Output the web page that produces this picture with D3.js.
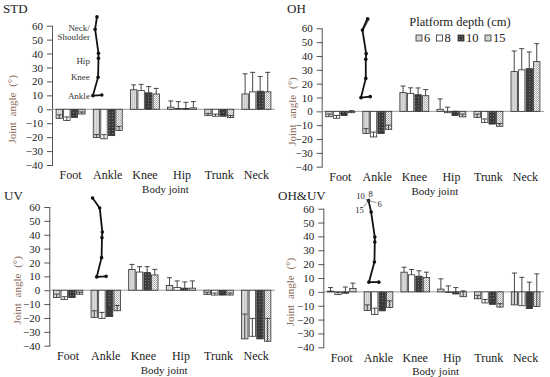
<!DOCTYPE html>
<html>
<head>
<meta charset="utf-8">
<script src="https://cdn.jsdelivr.net/npm/d3@7"></script>
<style>
body { margin: 0; background: #fff; }
svg { display: block; }
text { font-family: "Liberation Serif", "Times New Roman", serif; }
</style>
</head>
<body>
<script>
// categories, series, ticks
const categories = ['Foot', 'Ankle', 'Knee', 'Hip', 'Trunk', 'Neck'];
const depths = ['6', '8', '10', '15'];
const yTicks = [-40, -30, -20, -10, 0, 10, 20, 30, 40, 50, 60];

// means, one row per joint, one column per depth (6, 8, 10, 15 cm)
const stdMeans = [[-6.5, -8, -5.8, -3.4], [-20.2, -21.2, -18.9, -15.3], [14, 13.4, 11.8, 11],
                  [1.5, 0.5, 0.5, 1], [-4.5, -5, -5, -6], [11, 12.5, 13, 12.5]];
const stdErrs  = [[2.5, 2.5, 2, 1.5], [2, 3, 5, 3], [3.5, 4.5, 4.5, 4],
                  [4.5, 5, 4.5, 4.5], [1.5, 1.5, 1.5, 1.5], [14.5, 14, 10.5, 14]];

const ohMeans = [[-3.9, -5, -3, -1], [-16, -18.5, -16, -13], [13.5, 13, 12, 11.3],
                 [1.5, -1, -3, -4], [-4.5, -8, -9.2, -10.8], [28.7, 30, 30.8, 35.9]];
const ohErrs  = [[2, 2, 1, 1.5], [3.5, 3.5, 6, 3], [4.8, 4, 4.9, 4.4],
                 [7.5, 4, 3, 2], [2.5, 2.5, 2.5, 2], [14.9, 15.3, 12.1, 13]];

const uvMeans = [[-5.3, -6.7, -5.3, -2.9], [-19.6, -20.3, -19, -14.8], [15, 13.1, 12.7, 11],
                 [3.5, 2, 1.5, 1.5], [-3, -3.5, -3.5, -3.5], [-35.1, -33.2, -35.1, -36.8]];
const uvErrs  = [[2.5, 2, 2.5, 1.5], [4.8, 4.3, 6.6, 3.8], [3.6, 3.9, 4.3, 4],
                 [5.5, 4.7, 4.5, 5.2], [1.5, 1.5, 1.5, 1.5], [17.9, 12.9, 20.3, 16.5]];

const ohuvMeans = [[0.5, -2, -1, 2.5], [-13.5, -16.4, -13.7, -11.3], [14.2, 12.3, 11.3, 10.4],
                   [2, -0.5, -1.5, -3.5], [-5, -8, -9, -11], [-9.4, -10, -12, -10.5]];
const ohuvErrs  = [[2.6, 1.5, 4.5, 3.8], [4.1, 4.6, 5.5, 4.8], [3.6, 3.8, 3.9, 3.8],
                   [7.4, 4.8, 4.6, 4.2], [2.5, 2.5, 2.5, 2.5], [23, 20.5, 19, 23.5]];

// stick figure: toe, ankle, knee, hip, hip2, shoulder, head
// x in category units from the y axis, y in joint-angle units
const stdFigX = [1.34, 1.10, 1.24, 1.25, 1.25, 1.16, 1.21];
const stdFigY = [10.2, 9.8, 23, 36.6, 40.2, 57.5, 66.3];
const ohFigX = [1.31, 1.06, 1.19, 1.19, 1.20, 1.10, 1.24];
const ohFigY = [10.6, 9.9, 23.8, 37.6, 41.7, 58.7, 66.9];
const ohHeadX = [1.22, 1.24, 1.26, 1.28];
const uvFigX = [1.51, 1.26, 1.39, 1.40, 1.41, 1.34, 1.15];
const uvFigY = [10, 9.6, 23.5, 37.9, 42, 59.3, 66.5];
const ohuvFigX = [1.51, 1.24, 1.39, 1.40, 1.40, 1.30, 1.23];
const ohuvFigY = [7, 7, 21.5, 35.9, 39.5, 57.6, 65.8];
const figJointLabels = ['Ankle', 'Knee', 'Hip', 'Neck/', 'Shoulder'];

const width = 550;
const height = 377;

const svg = d3.select('body')
    .append('svg')
    .attr('width', width)
    .attr('height', height);

// bar fills
const defs = svg.append('defs');
let p10 = defs.append('pattern')
    .attr('id', 'pat10')
    .attr('patternUnits', 'userSpaceOnUse')
    .attr('width', 3)
    .attr('height', 3);
p10.append('rect').attr('width', 3).attr('height', 3).attr('fill', '#3c3c3c');
p10.append('rect').attr('x', 1).attr('y', 1).attr('width', 1).attr('height', 1).attr('fill', '#7a7a7a');

let p15 = defs.append('pattern')
    .attr('id', 'pat15')
    .attr('patternUnits', 'userSpaceOnUse')
    .attr('width', 2)
    .attr('height', 2);
p15.append('rect').attr('width', 2).attr('height', 2).attr('fill', '#f2f2f2');
p15.append('rect').attr('width', 1).attr('height', 1).attr('fill', '#a8a8a8');
p15.append('rect').attr('x', 1).attr('y', 1).attr('width', 1).attr('height', 1).attr('fill', '#bdbdbd');

let p6 = defs.append('pattern')
    .attr('id', 'pat6')
    .attr('patternUnits', 'userSpaceOnUse')
    .attr('width', 2)
    .attr('height', 2);
p6.append('rect').attr('width', 2).attr('height', 2).attr('fill', '#dcdcdc');
p6.append('rect').attr('width', 1).attr('height', 2).attr('fill', '#cacaca');

const fills = {'6': 'url(#pat6)', '8': '#ffffff', '10': 'url(#pat10)', '15': 'url(#pat15)'};

const panels = [
    {title: 'STD', means: stdMeans, errs: stdErrs, figX: stdFigX, figY: stdFigY,
     left: 52, right: 275, top: 25.7, bottom: 165, tx: 3, ty: 8, labX: 12, labels: true},
    {title: 'OH', means: ohMeans, errs: ohErrs, figX: ohFigX, figY: ohFigY, heads: ohHeadX,
     left: 321.7, right: 544, top: 28.3, bottom: 166.7, tx: 287, ty: 8, labX: 292, legend: true},
    {title: 'UV', means: uvMeans, errs: uvErrs, figX: uvFigX, figY: uvFigY,
     left: 49.3, right: 275, top: 207, bottom: 345.7, tx: 4, ty: 195, labX: 17},
    {title: 'OH&UV', means: ohuvMeans, errs: ohuvErrs, figX: ohuvFigX, figY: ohuvFigY,
     left: 323.3, right: 544, top: 208.7, bottom: 347.3, tx: 278, ty: 195, labX: 290, depthTags: true}
];

function fmt(d) {
    return d < 0 ? '\u2212' + (-d) : '' + d;
}

panels.forEach(drawPanel);

function drawPanel(p) {
    const g = svg.append('g');

    const y = d3.scaleLinear().domain([-40, 60]).range([p.bottom, p.top]);
    const x0 = d3.scaleBand()
        .domain(categories)
        .range([p.left, p.right])
        .paddingInner(0.22)
        .paddingOuter(0.11);
    const x1 = d3.scaleBand()
        .domain(depths)
        .range([0, x0.bandwidth()])
        .paddingInner(0.15);
    const xf = d3.scaleLinear().domain([0, 6]).range([p.left, p.left + 6 * x0.step()]);

    // y axis
    const ax = g.append('g')
        .attr('transform', `translate(${p.left},0)`)
        .call(d3.axisLeft(y).tickValues(yTicks).tickSize(5).tickSizeOuter(0).tickFormat(fmt));
    ax.select('.domain').attr('stroke', '#555');
    ax.selectAll('.tick line').attr('stroke', '#555').attr('x2', -5).attr('x1', 1);
    ax.selectAll('.tick text')
        .attr('x', -9)
        .style('font-family', '"Liberation Serif", serif')
        .style('font-size', '11px')
        .attr('fill', '#222');

    // zero line
    g.append('line')
        .attr('x1', p.left)
        .attr('x2', p.right)
        .attr('y1', y(0))
        .attr('y2', y(0))
        .attr('stroke', '#9a9a9a')
        .attr('stroke-width', 1);

    // bars
    const rows = [];
    categories.forEach((c, i) => {
        depths.forEach((d, j) => {
            rows.push({cat: c, dep: d, v: p.means[i][j], e: p.errs[i][j]});
        });
    });

    g.selectAll('rect.bar')
        .data(rows)
        .enter()
        .append('rect')
        .attr('class', 'bar')
        .attr('x', d => x0(d.cat) + x1(d.dep))
        .attr('width', x1.bandwidth())
        .attr('y', d => y(Math.max(0, d.v)))
        .attr('height', d => Math.abs(y(d.v) - y(0)))
        .attr('fill', d => fills[d.dep])
        .attr('stroke', '#2f2f2f')
        .attr('stroke-width', 0.8);

    // error bars (plus direction)
    const eb = g.selectAll('g.err')
        .data(rows)
        .enter()
        .append('g')
        .attr('class', 'err')
        .attr('stroke', '#333')
        .attr('stroke-width', 0.9);
    eb.append('line')
        .attr('x1', d => x0(d.cat) + x1(d.dep) + x1.bandwidth() / 2)
        .attr('x2', d => x0(d.cat) + x1(d.dep) + x1.bandwidth() / 2)
        .attr('y1', d => y(d.v))
        .attr('y2', d => y(d.v + d.e));
    eb.append('line')
        .attr('x1', d => x0(d.cat) + x1(d.dep) + x1.bandwidth() / 2 - 2.5)
        .attr('x2', d => x0(d.cat) + x1(d.dep) + x1.bandwidth() / 2 + 2.5)
        .attr('y1', d => y(d.v + d.e))
        .attr('y2', d => y(d.v + d.e));

    // category labels
    g.selectAll('text.cat')
        .data(categories)
        .enter()
        .append('text')
        .attr('class', 'cat')
        .attr('x', d => x0(d) + x0.bandwidth() / 2)
        .attr('y', p.bottom + 10)
        .attr('dy', '0.35em')
        .attr('text-anchor', 'middle')
        .style('font-size', '12px')
        .attr('fill', '#222')
        .text(d => d);

    g.append('text')
        .attr('x', (p.left + p.right) / 2 + 2)
        .attr('y', p.bottom + 24)
        .attr('dy', '0.35em')
        .attr('text-anchor', 'middle')
        .style('font-size', '11px')
        .attr('fill', '#222')
        .text('Body joint');

    g.append('text')
        .attr('transform', `translate(${p.labX},${(p.top + p.bottom) / 2 + 14}) rotate(-90)`)
        .attr('dy', '0.35em')
        .attr('text-anchor', 'middle')
        .style('font-size', '11px')
        .style('word-spacing', '3px')
        .attr('fill', '#8a6a58')
        .text('Joint angle (°)');

    g.append('text')
        .attr('x', p.tx)
        .attr('y', p.ty)
        .attr('dy', '0.35em')
        .style('font-size', '13px')
        .attr('fill', '#222')
        .text(p.title);

    // stick figure
    const pts = p.figX.map((v, i) => ({x: v, y: p.figY[i]}));
    const line = d3.line()
        .x(d => xf(d.x))
        .y(d => y(d.y));

    if (p.heads) {
        p.heads.forEach(h => {
            g.append('path')
                .attr('d', line([pts[5], {x: h, y: pts[6].y}]))
                .attr('fill', 'none')
                .attr('stroke', '#7a7a7a')
                .attr('stroke-width', 1.6);
        });
    }

    g.append('path')
        .attr('d', line(pts))
        .attr('fill', 'none')
        .attr('stroke', '#111')
        .attr('stroke-width', 1.8)
        .attr('stroke-linejoin', 'round');

    g.selectAll('circle.joint')
        .data(pts)
        .enter()
        .append('circle')
        .attr('class', 'joint')
        .attr('cx', d => xf(d.x))
        .attr('cy', d => y(d.y))
        .attr('r', 1.8)
        .attr('fill', '#111');

    if (p.labels) {
        // ankle, knee, hip, neck/shoulder names beside the figure
        const lab = [
            {t: figJointLabels[0], i: 1, dy: 0},
            {t: figJointLabels[1], i: 2, dy: 0},
            {t: figJointLabels[2], i: 3, dy: -1.5},
            {t: figJointLabels[3], i: 5, dy: 1},
            {t: figJointLabels[4], i: 5, dy: -5.5}
        ];
        g.selectAll('text.jl')
            .data(lab)
            .enter()
            .append('text')
            .attr('class', 'jl')
            .attr('x', xf(pts[1].x) - 3)
            .attr('y', d => y(pts[d.i].y + d.dy))
            .attr('dy', '0.35em')
            .attr('text-anchor', 'end')
            .style('font-size', '9px')
            .attr('fill', '#333')
            .text(d => d.t);
    }

    if (p.depthTags) {
        const hx = xf(pts[6].x);
        const hy = y(pts[6].y);
        const tags = [
            {t: '10', dx: -8, dy: -5, lx: -3, ly: -2},
            {t: '8', dx: 2, dy: -7, lx: 1, ly: -3},
            {t: '6', dx: 11, dy: 3, lx: 8, ly: 2},
            {t: '15', dx: -9, dy: 9, lx: -5, ly: 6}
        ];
        tags.forEach(d => {
            g.append('line')
                .attr('x1', hx)
                .attr('y1', hy)
                .attr('x2', hx + d.lx)
                .attr('y2', hy + d.ly)
                .attr('stroke', '#555')
                .attr('stroke-width', 0.6);
            g.append('text')
                .attr('x', hx + d.dx)
                .attr('y', hy + d.dy)
                .attr('dy', '0.35em')
                .attr('text-anchor', 'middle')
                .style('font-size', '8.5px')
                .attr('fill', '#222')
                .text(d.t);
        });
    }

    if (p.legend) {
        const lg = g.append('g');
        lg.append('text')
            .attr('x', 460)
            .attr('y', 22)
            .attr('dy', '0.35em')
            .attr('text-anchor', 'middle')
            .style('font-size', '12.5px')
            .attr('fill', '#222')
            .text('Platform depth (cm)');
        const lx = d3.scaleOrdinal().domain(depths).range([416, 436.5, 458, 485]);
        const it = lg.selectAll('g.li')
            .data(depths)
            .enter()
            .append('g')
            .attr('class', 'li')
            .attr('transform', d => `translate(${lx(d)},38)`);
        it.append('rect')
            .attr('x', 0)
            .attr('y', -3)
            .attr('width', 6)
            .attr('height', 6)
            .attr('fill', d => fills[d])
            .attr('stroke', '#2f2f2f')
            .attr('stroke-width', 0.8);
        it.append('text')
            .attr('x', 8)
            .attr('y', 0)
            .attr('dy', '0.35em')
            .style('font-size', '12.5px')
            .attr('fill', '#222')
            .text(d => d);
    }
}
</script>
</body>
</html>
